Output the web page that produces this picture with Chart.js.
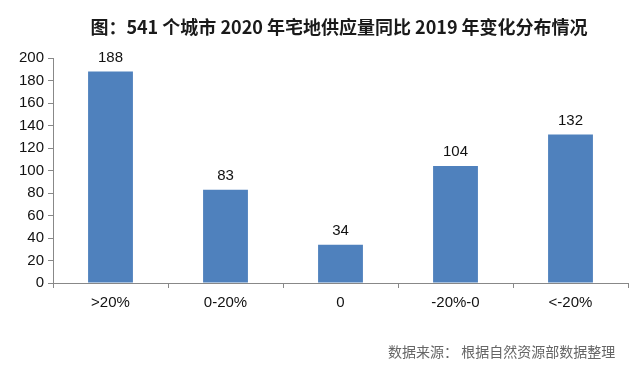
<!DOCTYPE html>
<html>
<head>
<meta charset="utf-8">
<script src="https://cdn.jsdelivr.net/npm/chart.js@4/dist/chart.umd.min.js"></script>
<style>
html,body{margin:0;padding:0;background:#fff;}
#wrap{width:640px;height:370px;position:relative;}
</style>
</head>
<body>
<div id="wrap"><canvas id="c" width="640" height="370"></canvas></div>
<script>
const titleText = "图：541 个城市 2020 年宅地供应量同比 2019 年变化分布情况";
const sourceText = "数据来源： 根据自然资源部数据整理";
const categories = [">20%", "0-20%", "0", "-20%-0", "<-20%"];
const cityCounts = [188, 83, 34, 104, 132];
const yTicks = [0, 20, 40, 60, 80, 100, 120, 140, 160, 180, 200];

const FONT = "'Liberation Sans', Arial, sans-serif";

const decor = {
  id: 'decor',
  afterDraw(chart) {
    const ctx = chart.ctx;
    ctx.save();
    // title
    ctx.fillStyle = '#1a1a1a';
    ctx.font = "bold 18px 'Noto Sans CJK SC', sans-serif";
    ctx.textAlign = 'center';
    ctx.textBaseline = 'middle';
    ctx.fillText(titleText, 339, 27);
    // value labels
    const meta = chart.getDatasetMeta(0);
    ctx.font = "15px " + FONT;
    ctx.fillStyle = '#111';
    meta.data.forEach((bar, i) => {
      ctx.fillText(String(cityCounts[i]), bar.x, bar.y - 14);
    });
    // source
    ctx.font = "14px 'Noto Sans CJK SC', sans-serif";
    ctx.fillStyle = '#666';
    ctx.textAlign = 'left';
    ctx.fillText(sourceText, 388, 352);
    ctx.restore();
  }
};

new Chart(document.getElementById('c'), {
  type: 'bar',
  data: {
    labels: categories,
    datasets: [{
      data: cityCounts,
      backgroundColor: '#4F81BD',
      borderWidth: 0,
      barPercentage: 0.78,
      categoryPercentage: 0.5
    }]
  },
  options: {
    responsive: false,
    animation: false,
    devicePixelRatio: 1,
    layout: { padding: { left: 0, right: 12, top: 58, bottom: 0 } },
    plugins: { legend: { display: false }, tooltip: { enabled: false }, title: { display: false } },
    scales: {
      x: {
        grid: { display: true, drawOnChartArea: false, drawTicks: true, tickLength: 5, color: '#888', offset: true },
        border: { display: true, color: '#888', width: 1 },
        ticks: { color: '#111', font: { family: FONT, size: 15 }, padding: 6, maxRotation: 0 },
        afterFit(s) { s.height = 87; }
      },
      y: {
        min: 0, max: 200,
        afterBuildTicks(s) { s.ticks = yTicks.map(v => ({ value: v })); },
        grid: { display: true, drawOnChartArea: false, drawTicks: true, tickLength: 5, color: '#888' },
        border: { display: true, color: '#888', width: 1 },
        ticks: { color: '#111', font: { family: FONT, size: 15 }, padding: 4 },
        afterFit(s) { s.width = 53; }
      }
    }
  },
  plugins: [decor]
});
</script>
</body>
</html>
